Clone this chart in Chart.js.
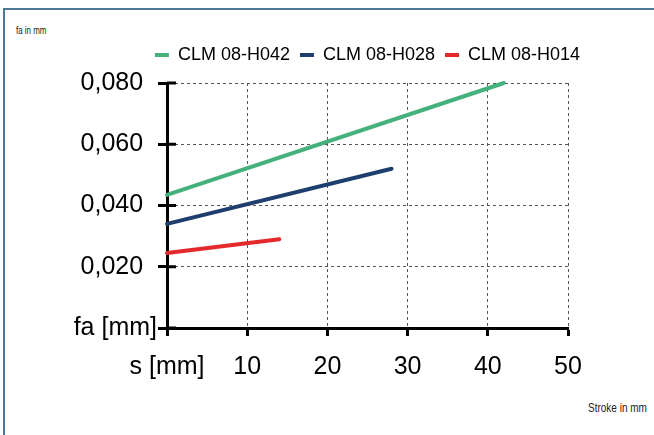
<!DOCTYPE html>
<html><head><meta charset="utf-8">
<script src="https://cdn.jsdelivr.net/npm/chart.js@4"></script>
<style>
html,body{margin:0;padding:0;background:#fff;overflow:hidden;width:654px;height:435px}
#frame{position:absolute;left:3px;top:8px;width:700px;height:460px;border-top:2px solid #4a7894;border-left:2px solid #4a7894}
canvas{position:absolute;left:0;top:0}
.note{position:absolute;font-family:"Liberation Sans",Arial,sans-serif;color:#222;white-space:nowrap;transform-origin:0 0;line-height:1}
</style></head><body>
<div id="frame"></div>
<div class="note" style="left:16px;top:25px;font-size:11px;transform:scaleX(0.72)">fa in mm</div>
<div class="note" style="left:588px;top:402px;font-size:12.5px;transform:scaleX(0.8)">Stroke in mm</div>
<canvas id="c" width="654" height="435"></canvas>
<script>
// ---- data ----
const seriesNames = ['CLM 08-H042', 'CLM 08-H028', 'CLM 08-H014'];
const strokeH042 = [0, 42];
const faH042 = [0.0435, 0.080];
const strokeH028 = [0, 28];
const faH028 = [0.0340, 0.0520];
const strokeH014 = [0, 14];
const faH014 = [0.0245, 0.0290];
const xTickValues = [0, 10, 20, 30, 40, 50];
const yTickValues = [0, 0.02, 0.04, 0.06, 0.08];
const xZeroLabel = 's [mm]';
const yZeroLabel = 'fa [mm]';

const colors = ['#44b07c', '#1e3f6d', '#e4292b'];
const pts = (xs, ys) => xs.map((x, i) => ({x: x, y: ys[i]}));
const seriesData = [pts(strokeH042, faH042), pts(strokeH028, faH028), pts(strokeH014, faH014)];

// keep the legend on one row, centred over the plot, with a gap below it
const legendFit = {
  id: 'legendFit',
  beforeLayout(chart) {
    const lg = chart.legend;
    if (lg && !lg._patched) {
      const fit = lg.fit;
      lg.fit = function () {
        this.maxWidth = 1000;
        fit.call(this);
        this.height += 9;
      };
      lg._patched = true;
    }
  },
  afterLayout(chart) {
    const lg = chart.legend, ca = chart.chartArea;
    if (!lg) return;
    const cx = (ca.left + ca.right) / 2, half = 250;
    lg.left = cx - half;
    lg.right = cx + half;
    lg.width = 2 * half;
  }
};
const crossTicks = {
  id: 'crossTicks',
  afterDraw(chart) {
    const y = chart.scales.y, ctx = chart.ctx;
    const ax = chart.chartArea.left;
    ctx.save();
    ctx.strokeStyle = '#000';
    ctx.lineWidth = 3;
    y.ticks.forEach(t => {
      const py = y.getPixelForValue(t.value);
      ctx.beginPath();
      ctx.moveTo(ax, py);
      ctx.lineTo(ax + 9, py);
      ctx.stroke();
    });
    ctx.restore();
  }
};

const tickFont = {family: '"Liberation Sans", Arial, sans-serif', size: 25};

new Chart(document.getElementById('c'), {
  type: 'line',
  data: {
    datasets: seriesNames.map((n, i) => ({
      label: n,
      data: seriesData[i],
      borderColor: colors[i],
      backgroundColor: colors[i],
      borderWidth: 4,
      borderCapStyle: 'round',
      pointRadius: 0,
      pointStyle: 'line',
      tension: 0,
      clip: false
    }))
  },
  options: {
    responsive: false,
    animation: false,
    layout: {padding: {top: 36, left: 0, right: 86, bottom: 0}},
    plugins: {
      tooltip: {enabled: false},
      legend: {
        position: 'top',
        fullSize: false,
        labels: {
          usePointStyle: true,
          pointStyle: 'line',
          pointStyleWidth: 14,
          padding: 10,
          color: '#000',
          font: {family: '"Liberation Sans", Arial, sans-serif', size: 18}
        }
      }
    },
    scales: {
      x: {
        type: 'linear',
        min: 0, max: 50,
        afterBuildTicks(s) { s.ticks = xTickValues.map(v => ({value: v})); },
        afterFit(s) { s.height = 107; },
        ticks: {
          color: '#000', font: tickFont, padding: 16, maxRotation: 0,
          callback: v => (v === 0 ? xZeroLabel : String(v))
        },
        grid: {color: '#555', lineWidth: 1, tickLength: 8, tickColor: '#000', tickWidth: 3},
        border: {display: true, color: '#000', width: 3, dash: [3, 3]}
      },
      y: {
        type: 'linear',
        min: 0, max: 0.08,
        afterBuildTicks(s) { s.ticks = yTickValues.map(v => ({value: v})); },
        afterFit(s) { s.width = 167; },
        ticks: {
          color: '#000', font: tickFont, padding: 1,
          callback: v => (Math.abs(v) < 1e-9 ? yZeroLabel : v.toFixed(3).replace('.', ',') + '  ')
        },
        grid: {color: '#555', lineWidth: 1, tickLength: 9, tickColor: '#000', tickWidth: 3},
        border: {display: true, color: '#000', width: 3, dash: [3, 3]}
      }
    }
  },
  plugins: [legendFit, crossTicks]
});
</script>
</body></html>
